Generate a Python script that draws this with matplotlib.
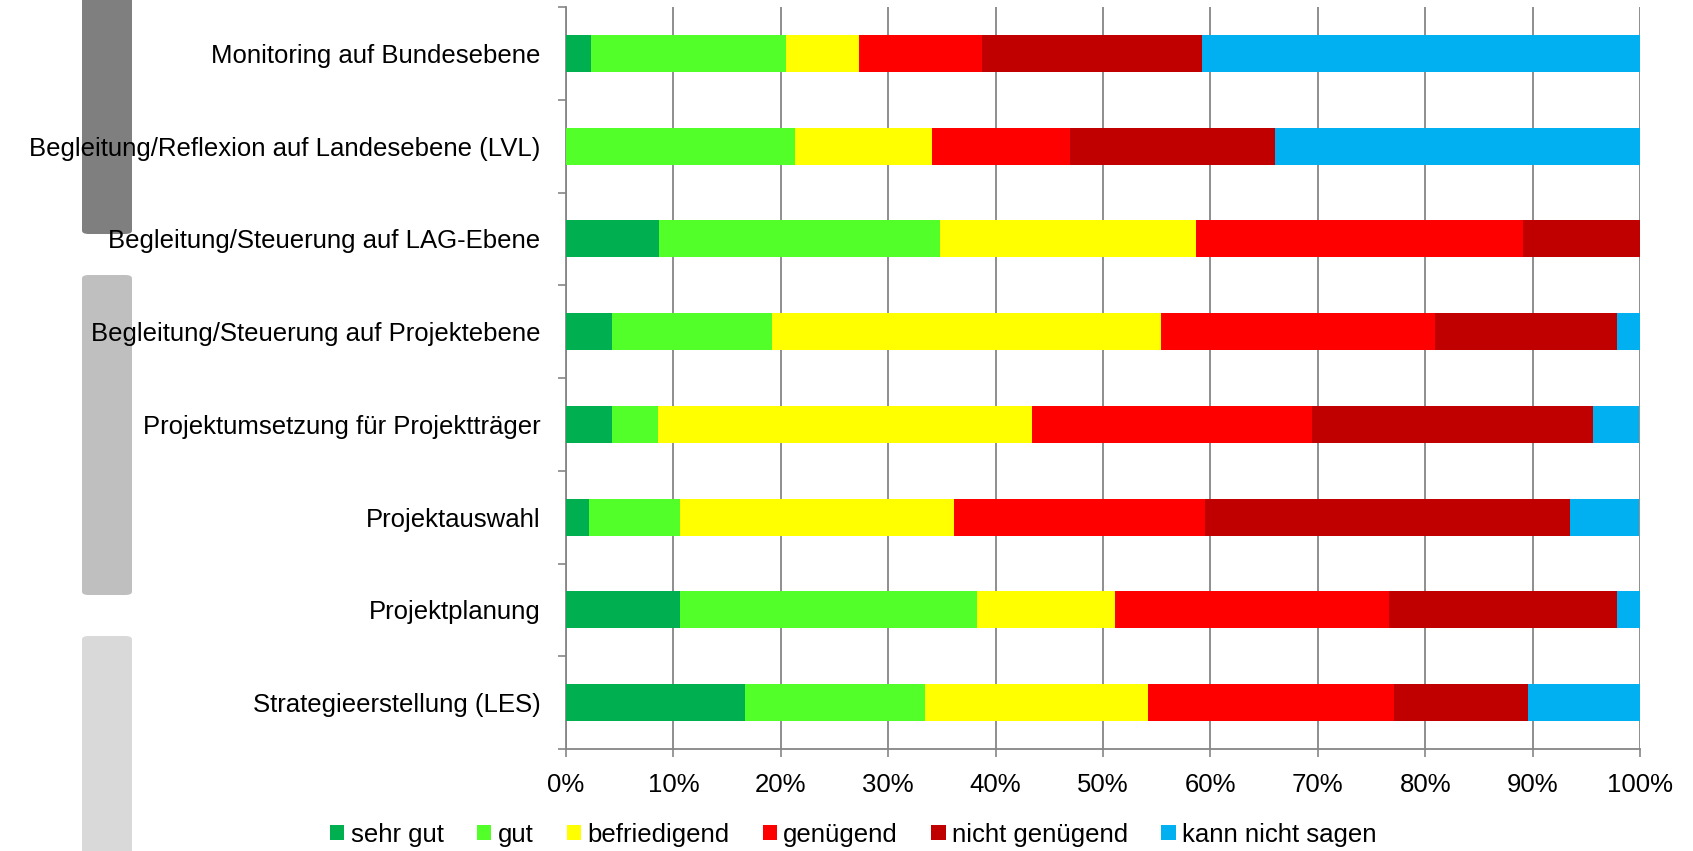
import numpy as np
import matplotlib
matplotlib.use("Agg")
import matplotlib.pyplot as plt
from matplotlib.patches import FancyBboxPatch

plt.rcParams['font.family'] = ['Liberation Sans', 'DejaVu Sans']

categories = [
    "Monitoring auf Bundesebene",
    "Begleitung/Reflexion auf Landesebene (LVL)",
    "Begleitung/Steuerung auf LAG-Ebene",
    "Begleitung/Steuerung auf Projektebene",
    "Projektumsetzung für Projektträger",
    "Projektauswahl",
    "Projektplanung",
    "Strategieerstellung (LES)",
]
series_names = ["sehr gut", "gut", "befriedigend", "genügend",
                "nicht genügend", "kann nicht sagen"]

# percentages per category (top to bottom)
sehr_gut = [2.3, 0.0, 8.7, 4.3, 4.3, 2.1, 10.6, 16.7]
gut = [18.2, 21.3, 26.1, 14.9, 4.3, 8.5, 27.7, 16.7]
befriedigend = [6.8, 12.8, 23.9, 36.2, 34.8, 25.5, 12.8, 20.8]
genuegend = [11.4, 12.8, 30.4, 25.5, 26.1, 23.4, 25.5, 22.9]
nicht_genuegend = [20.5, 19.1, 10.9, 17.0, 26.1, 34.0, 21.3, 12.5]
kann_nicht = [40.9, 34.0, 0.0, 2.1, 4.3, 6.4, 2.1, 10.4]

colors = ["#00B050", "#53FF29", "#FFFF00", "#FF0000", "#C00000", "#00B0F0"]
grid_col = "#868686"
fs = 18.5

fig = plt.figure(figsize=(16.93, 8.51), dpi=100)

# grey group markers on the left
for y0, y1, c in [(1 - 234 / 851, 1.02, "#7F7F7F"),
                  (1 - 595 / 851, 1 - 275 / 851, "#BFBFBF"),
                  (-0.02, 1 - 636 / 851, "#D9D9D9")]:
    fig.patches.append(FancyBboxPatch((82 / 1693, y0), 50 / 1693, y1 - y0,
                                      boxstyle="round,pad=0,rounding_size=0.004",
                                      transform=fig.transFigure, facecolor=c,
                                      edgecolor="none", zorder=0))

ax = fig.add_axes([566 / 1693, 1 - 749 / 851, 1074 / 1693, 742 / 851])
ax.set_facecolor("none")
ax.set_zorder(2)

data = np.array([sehr_gut, gut, befriedigend, genuegend, nicht_genuegend, kann_nicht])
y = np.arange(len(categories))
left = np.zeros(len(categories))
for vals, name, col in zip(data, series_names, colors):
    ax.barh(y, vals, left=left, height=0.4, color=col, label=name, zorder=3)
    left += vals

ax.set_xlim(0, 100)
ax.set_ylim(len(categories) - 0.5, -0.5)
ax.set_xticks(np.arange(0, 101, 10))
ax.set_xticklabels([f"{v}%" for v in range(0, 101, 10)], fontsize=fs)
ax.set_yticks(y)
ax.set_yticklabels(categories, fontsize=fs)
ax.set_yticks(np.arange(-0.5, len(categories), 1), minor=True)
ax.tick_params(axis="y", which="major", length=0, pad=18.5)
ax.tick_params(axis="y", which="minor", length=6, width=1.2, color=grid_col)
ax.tick_params(axis="x", length=6, width=1.2, color=grid_col, pad=11)
ax.grid(axis="x", color=grid_col, linewidth=1.3, zorder=1)
ax.set_axisbelow(True)
for s in ["top", "right"]:
    ax.spines[s].set_visible(False)
for s in ["left", "bottom"]:
    ax.spines[s].set_color(grid_col)
    ax.spines[s].set_linewidth(1.3)

leg = fig.legend(loc="lower center", bbox_to_anchor=(0.504, -0.022), ncol=6,
                 frameon=False, fontsize=fs, handlelength=0.55, handleheight=0.55,
                 handletextpad=0.25, columnspacing=1.3)
leg.set_zorder(3)

fig.savefig("out.png", dpi=100)
